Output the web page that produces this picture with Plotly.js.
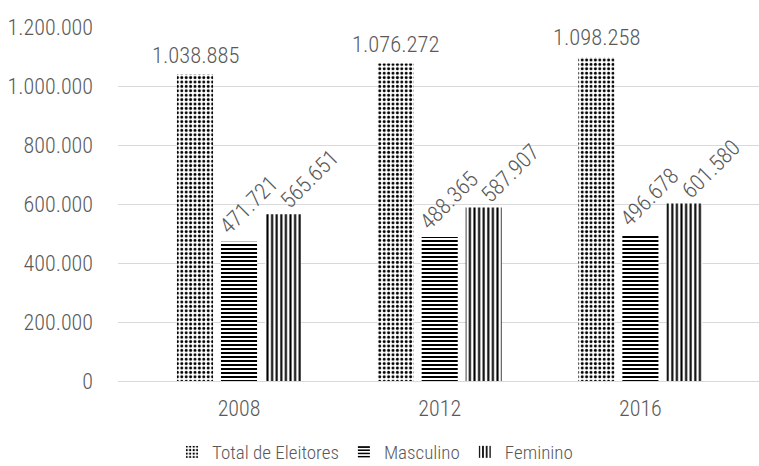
<!DOCTYPE html>
<html><head><meta charset="utf-8">
<script src="https://cdn.plot.ly/plotly-3.0.1.min.js"></script>
<style>body{margin:0;background:#fff}#c{width:759px;height:466px}</style>
</head><body><div id="c"></div>
<script>
const years = ['2008', '2012', '2016'];
const total = [1038885, 1076272, 1098258];
const masculino = [471721, 488365, 496678];
const feminino = [565651, 587907, 601580];
const seriesNames = ['Total de Eleitores', 'Masculino', 'Feminino'];

const FONT = '"Roboto Condensed", "Roboto", sans-serif';
const GREY = '#595959';
const BARGAP = 0.342;

function fmt(v) { return String(v).replace(/\B(?=(\d{3})+(?!\d))/g, '.'); }

function trace(name, y, shape, size, solidity) {
  return {
    type: 'bar', name: name, x: years, y: y,
    marker: {color: '#ffffff', line: {width: 0},
      pattern: {shape: shape, fgcolor: '#000000', bgcolor: '#ffffff', size: size, solidity: solidity, fillmode: 'replace'}},
    hoverinfo: 'skip'
  };
}

const data = [
  trace(seriesNames[0], total, '.', 4.4, 0.35),
  trace(seriesNames[1], masculino, '-', 4, 0.5),
  trace(seriesNames[2], feminino, '|', 4.6, 0.45)
];

// data labels positioned on each bar (category index + group offset)
const slot = (1 - BARGAP) / 3;
const series = [
  {vals: total, k: 0, angle: 0, xshift: 0, yshift: 6, yanchor: 'bottom'},
  {vals: masculino, k: 1, angle: -45, xshift: 9, yshift: 37, yanchor: 'middle'},
  {vals: feminino, k: 2, angle: -45, xshift: 26, yshift: 35, yanchor: 'middle'}
];
const annotations = [];
series.forEach(s => {
  s.vals.forEach((v, i) => {
    annotations.push({
      xref: 'x', yref: 'y', x: i + (s.k - 1) * slot, y: v, text: fmt(v),
      showarrow: false, textangle: s.angle, xanchor: 'center', yanchor: s.yanchor,
      xshift: s.xshift, yshift: s.yshift, borderpad: 0,
      font: {family: FONT, size: 22.5, color: GREY, weight: 300}
    });
  });
});

const layout = {
  width: 759, height: 466,
  margin: {l: 118, r: 0, t: 27, b: 85, autoexpand: false},
  paper_bgcolor: '#fff', plot_bgcolor: '#fff',
  separators: ',.',
  barmode: 'group', bargap: BARGAP, bargroupgap: 0.18,
  font: {family: FONT, color: GREY, size: 20, weight: 300},
  xaxis: {type: 'category', range: [-0.603, 2.591], showline: false, ticks: '', ticklabelstandoff: 12,
    tickfont: {size: 22, color: GREY, weight: 300}, showgrid: false, automargin: false},
  yaxis: {range: [0, 1200000], dtick: 200000, tickformat: ',d', gridcolor: '#d9d9d9', gridwidth: 1,
    zeroline: true, zerolinecolor: '#d9d9d9', zerolinewidth: 1, showline: false, automargin: false,
    ticks: '', ticklabelstandoff: 24, tickfont: {size: 22, color: GREY, weight: 300}},
  annotations: annotations,
  showlegend: true,
  legend: {orientation: 'h', x: 0.494, xref: 'container', xanchor: 'center', y: 14 / 466, yref: 'container', yanchor: 'middle',
    font: {size: 19, color: GREY, weight: 300}, itemwidth: 30}
};

Plotly.newPlot('c', data, layout, {displayModeBar: false, staticPlot: true});
</script>
</body></html>
